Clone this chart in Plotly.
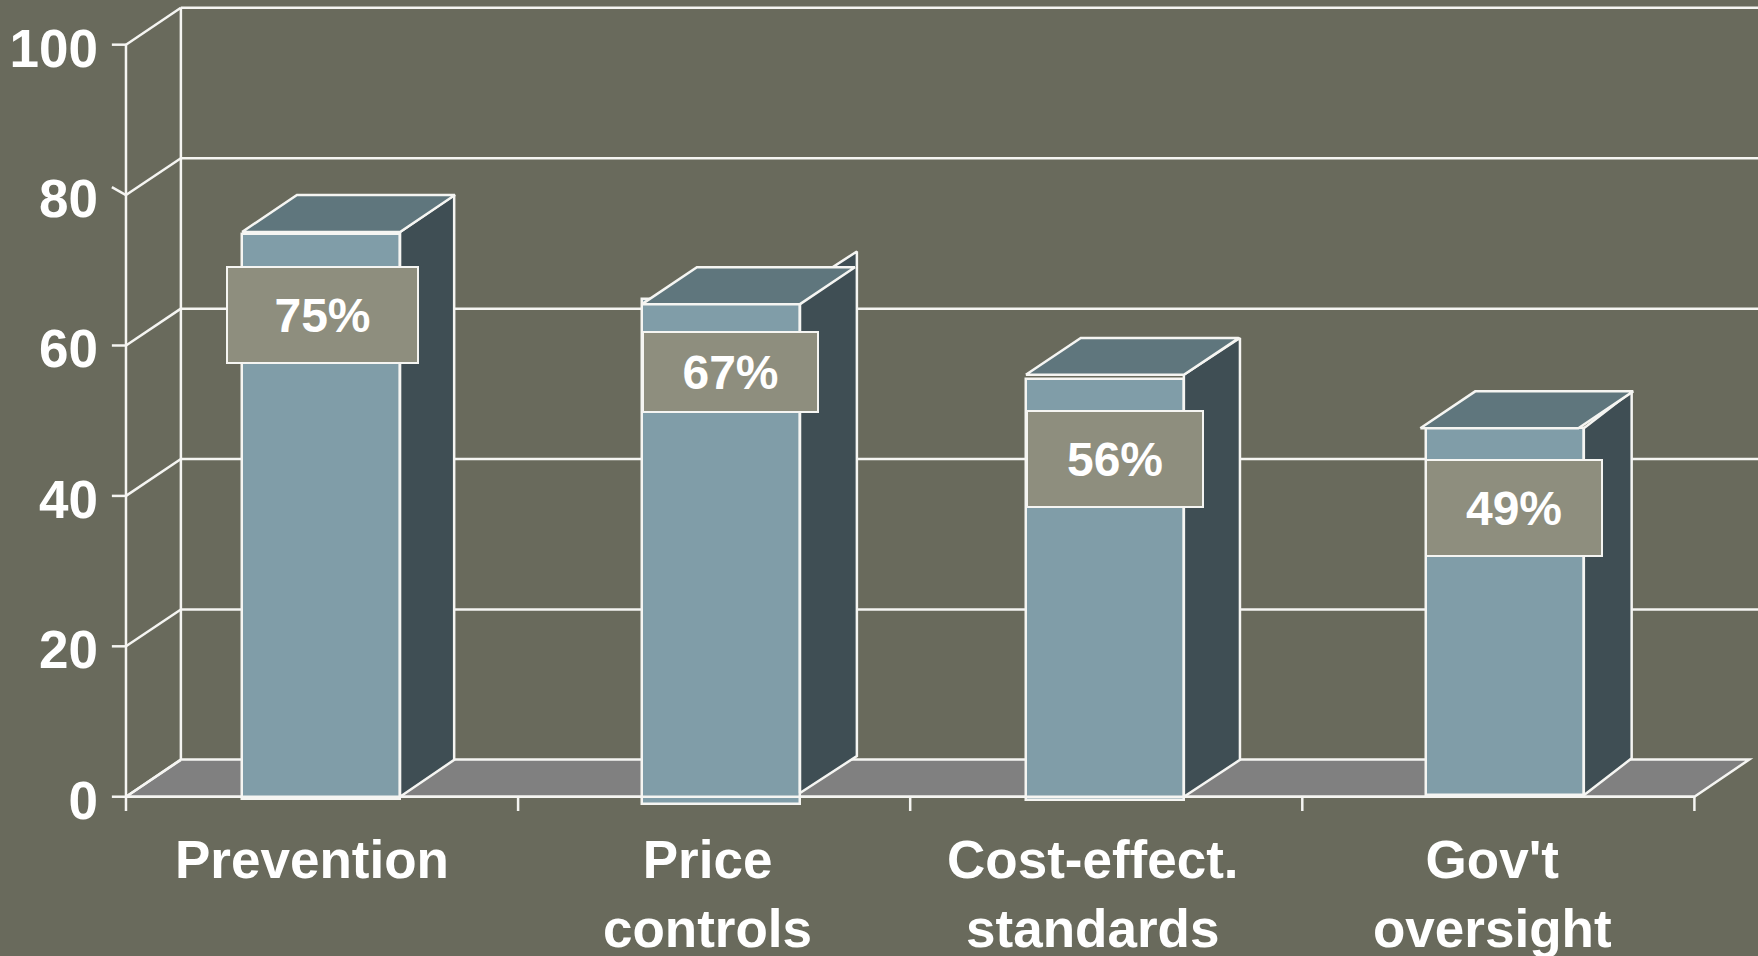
import plotly.graph_objects as go

categories = ["Prevention", "Price<br>controls", "Cost-effect.<br>standards", "Gov't<br>oversight"]
label_values = [75, 67, 56, 49]
front_tops = [74.8, 66.2, 55.6, 49.0]
bar_bases = [-0.3, -1.0, -0.5, 0.2]
top_levels = [75.1, 65.5, 56.1, 49.0]
side_levels = [75.1, 67.6, 56.1, 49.0]
side_bases = [0.0, 0.5, 0.0, 0.2]
y_ticks = [0, 20, 40, 60, 80, 100]

# placement (axis units)
bar_left = [0.296, 1.316, 2.295, 3.315]
bar_width = 0.403
top_shift = [0.0, 0.0, 0.0, -0.014]
side_depth = [0.138, 0.145, 0.143, 0.122]
label_x = [0.5, 1.542, 2.522, 3.54]
label_y = [64.05, 56.5, 44.85, 38.45]
label_w = [189, 173, 174, 174]
label_h = [94, 78, 94, 94]
cat_x = [0.475, 1.483, 2.467, 3.485]
DX, DY = 0.14, 4.9
CAT_Y = -4.2
TICK_LABEL_DROP = 0.45
X_MAX = 4.1622

BG, WHITE = "#696A5C", "#F5F5F2"
FRONT, SIDE, TOP, FLOOR, BOX = "#809DA8", "#3F4E54", "#5F767D", "#808080", "#8E8E7E"
FONT = "Liberation Sans, Arial, sans-serif"
LW = 2.5

fig = go.Figure()
shapes = []


def seg(x0, y0, x1, y1):
    shapes.append(dict(type="line", xref="x", yref="y", x0=x0, y0=y0, x1=x1, y1=y1,
                       layer="below", line=dict(color=WHITE, width=LW)))


# floor
shapes.append(dict(type="path", xref="x", yref="y", layer="below", fillcolor=FLOOR,
                   path=f"M 0 0 L {DX} {DY+0.05} L {4+DX} {DY+0.05} L 4 0 Z",
                   line=dict(color=WHITE, width=LW)))
# walls and gridlines
seg(DX, DY, DX, 100 + DY)
seg(0, 0, 0, 100)
for t in y_ticks:
    seg(0, t, DX, t + DY)
    if t > 0:
        seg(DX, t + DY, X_MAX, t + DY)
fig.update_layout(shapes=shapes)

# front faces
fig.add_trace(go.Bar(
    x=[l + bar_width / 2 for l in bar_left], y=[t - b for t, b in zip(front_tops, bar_bases)],
    base=bar_bases, width=bar_width, marker=dict(color=FRONT, line=dict(color=WHITE, width=LW)),
    hoverinfo="skip", showlegend=False))

for i in range(4):
    r = bar_left[i] + bar_width
    # side face
    fig.add_trace(go.Scatter(
        x=[r, r + side_depth[i], r + side_depth[i], r, r],
        y=[side_levels[i], side_levels[i] + DY, side_bases[i] + DY, side_bases[i], side_levels[i]],
        mode="lines", fill="toself", fillcolor=SIDE, line=dict(color=WHITE, width=LW),
        hoverinfo="skip", showlegend=False))
    # top face
    l = bar_left[i] + top_shift[i]
    rr = l + bar_width
    fig.add_trace(go.Scatter(
        x=[l, l + DX, rr + DX, rr, l],
        y=[top_levels[i], top_levels[i] + DY, top_levels[i] + DY, top_levels[i], top_levels[i]],
        mode="lines", fill="toself", fillcolor=TOP, line=dict(color=WHITE, width=LW),
        hoverinfo="skip", showlegend=False))

# front floor edge and tick marks
fig.add_trace(go.Scatter(x=[0, 4], y=[0, 0], mode="lines", line=dict(color=WHITE, width=LW),
                         hoverinfo="skip", showlegend=False))
for k in range(5):
    fig.add_trace(go.Scatter(x=[k, k], y=[0, -1.9], mode="lines", line=dict(color=WHITE, width=LW),
                             hoverinfo="skip", showlegend=False))
for t in y_ticks:
    slant = 1.05 if t == 80 else 0
    fig.add_trace(go.Scatter(x=[-0.036, 0], y=[t + slant, t], mode="lines",
                             line=dict(color=WHITE, width=LW), hoverinfo="skip", showlegend=False))

annotations = []
for i in range(4):
    annotations.append(dict(
        x=label_x[i], y=label_y[i], xref="x", yref="y", text=f"<b>{label_values[i]}%</b>",
        showarrow=False, width=label_w[i], height=label_h[i], bgcolor=BOX, bordercolor=WHITE,
        borderwidth=2, borderpad=0, align="center", valign="middle",
        font=dict(family=FONT, size=48, color="white")))
    annotations.append(dict(
        x=cat_x[i], y=CAT_Y, xref="x", yref="y", text=f"<b>{categories[i]}</b>", showarrow=False,
        yanchor="top", xanchor="center", align="center",
        font=dict(family=FONT, size=53, color="white")))

fig.update_layout(
    width=1758, height=956, margin=dict(l=0, r=0, t=0, b=0), autosize=False,
    paper_bgcolor=BG, plot_bgcolor=BG, showlegend=False, bargap=0,
    annotations=annotations,
    xaxis=dict(range=[-0.3213, X_MAX], showgrid=False, zeroline=False, showticklabels=False,
               ticks="", fixedrange=True),
    yaxis=dict(range=[-21.18, 105.94], showgrid=False, zeroline=False, tickmode="array",
               tickvals=[t - TICK_LABEL_DROP for t in y_ticks],
               ticktext=[f"<b>{t}</b>" for t in y_ticks], ticks="",
               anchor="free", position=126 / 1758, side="left", ticklabelstandoff=28,
               tickfont=dict(family=FONT, size=53, color="white"), fixedrange=True),
)

fig.write_html("out.html", config=dict(displayModeBar=False),
               post_script="document.body.style.margin='0';document.body.style.background='" + BG + "';")
